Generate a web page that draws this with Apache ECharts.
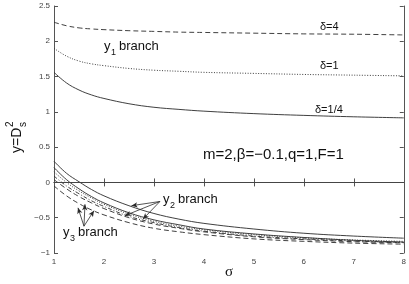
<!DOCTYPE html>
<html><head><meta charset="utf-8">
<script src="https://cdn.jsdelivr.net/npm/echarts@6/dist/echarts.min.js"></script>
<style>html,body{margin:0;padding:0;background:#fff}#c{width:409px;height:284px}</style>
</head><body><div id="c"></div>
<script>
// sigma sample points
const sigma = [1, 1.25, 1.5, 1.75, 2, 2.5, 3, 3.5, 4, 5, 6, 7, 8];
// y1 branch
const y1_d4   = [2.27, 2.22, 2.19, 2.175, 2.165, 2.15, 2.14, 2.13, 2.125, 2.115, 2.105, 2.10, 2.09];
const y1_d1   = [1.90, 1.79, 1.72, 1.68, 1.655, 1.615, 1.59, 1.575, 1.56, 1.545, 1.53, 1.52, 1.51];
const y1_d14  = [1.56, 1.41, 1.31, 1.24, 1.19, 1.115, 1.065, 1.035, 1.01, 0.975, 0.95, 0.93, 0.915];
// y2 / y3 branches
const y2_d14  = [0.30, 0.13, 0.01, -0.10, -0.19, -0.33, -0.44, -0.52, -0.58, -0.66, -0.72, -0.76, -0.79];
const y3_d14  = [0.21, 0.04, -0.09, -0.20, -0.29, -0.43, -0.53, -0.60, -0.66, -0.73, -0.78, -0.82, -0.845];
const y2_d1   = [0.15, 0.00, -0.12, -0.22, -0.31, -0.45, -0.55, -0.62, -0.67, -0.74, -0.785, -0.815, -0.835];
const y3_d1   = [0.09, -0.05, -0.16, -0.26, -0.34, -0.48, -0.57, -0.64, -0.69, -0.76, -0.80, -0.83, -0.85];
const y2_d4   = [0.04, -0.09, -0.20, -0.29, -0.37, -0.50, -0.59, -0.65, -0.70, -0.77, -0.81, -0.84, -0.855];
const y3_d4   = [-0.05, -0.19, -0.30, -0.39, -0.46, -0.57, -0.65, -0.70, -0.74, -0.80, -0.835, -0.86, -0.875];
// ticks
const xTicks = [1, 2, 3, 4, 5, 6, 7, 8];
const yTicks = [-1, -0.5, 0, 0.5, 1, 1.5, 2, 2.5];
// annotation arrows [from, to] in data coords
const y2Arrows = [[[3.12, -0.27], [2.55, -0.33]], [[3.12, -0.27], [2.42, -0.47]], [[3.12, -0.27], [2.78, -0.52]]];
const y3Arrows = [[[1.6, -0.62], [1.48, -0.36]], [[1.6, -0.62], [1.62, -0.31]], [[1.6, -0.62], [1.80, -0.40]]];

const LC = '#2a2a2a';
const pts = a => sigma.map((s, i) => [s, a[i]]);
function line(name, arr, type) {
  return { name, type: 'line', data: pts(arr), showSymbol: false, smooth: 0.4,
    lineStyle: { color: LC, width: 0.9, type: type }, silent: true, animation: false, z: 3 };
}
const DASH = [5, 3], DOT = [1, 1.6], DASHDOT = [4, 2, 1, 2];

const arrowData = [...y2Arrows, ...y3Arrows].map(([a, b]) => [
  { coord: a, symbol: 'none' }, { coord: b, symbol: 'arrow', symbolSize: [4, 6] }]);

const fmt = v => String(v).replace('-', '\u2212');
const axisCommon = { min: xTicks[0], max: xTicks[xTicks.length - 1], interval: 1 };
const chart = echarts.init(document.getElementById('c'), null, { renderer: 'canvas' });
chart.setOption({
  animation: false,
  backgroundColor: '#fff',
  grid: { left: 54, right: 5, top: 6, bottom: 31, containLabel: false },
  xAxis: [
    { type: 'value', ...axisCommon, position: 'bottom',
      axisLine: { lineStyle: { color: '#555', width: 1 } },
      axisTick: { inside: true, length: 4, lineStyle: { color: '#555' } },
      axisLabel: { fontSize: 8, color: '#444', margin: 5, fontFamily: 'Liberation Sans', formatter: fmt },
      splitLine: { show: false } },
    { type: 'value', ...axisCommon, position: 'top',
      axisLine: { lineStyle: { color: '#555', width: 1 } },
      axisTick: { inside: true, length: 4, lineStyle: { color: '#555' } },
      axisLabel: { show: false }, splitLine: { show: false } }
  ],
  yAxis: [
    { type: 'value', min: yTicks[0], max: yTicks[yTicks.length - 1], interval: 0.5, position: 'left',
      axisLine: { show: true, lineStyle: { color: '#555', width: 1 } },
      axisTick: { show: true, inside: true, length: 4, lineStyle: { color: '#555' } },
      axisLabel: { fontSize: 8, color: '#444', margin: 4, fontFamily: 'Liberation Sans', formatter: fmt },
      splitLine: { show: false } },
    { type: 'value', min: yTicks[0], max: yTicks[yTicks.length - 1], interval: 0.5, position: 'right',
      axisLine: { show: true, lineStyle: { color: '#555', width: 1 } },
      axisTick: { show: true, inside: true, length: 4, lineStyle: { color: '#555' } },
      axisLabel: { show: false }, splitLine: { show: false } }
  ],
  series: [
    line('y1 δ=4', y1_d4, DASH),
    line('y1 δ=1', y1_d1, DOT),
    Object.assign(line('y1 δ=1/4', y1_d14, 'solid'), {
      markLine: { silent: true, symbol: 'none', label: { show: false },
        lineStyle: { color: '#444', width: 0.9, type: 'solid' }, data: [{ yAxis: 0 }] } }),
    line('y2 δ=1/4', y2_d14, 'solid'),
    line('y3 δ=1/4', y3_d14, 'solid'),
    line('y2 δ=1', y2_d1, DOT),
    line('y3 δ=1', y3_d1, DASHDOT),
    line('y2 δ=4', y2_d4, DASH),
    line('y3 δ=4', y3_d4, DASH),
    { type: 'line', data: [], silent: true,
      markLine: { silent: true, animation: false, label: { show: false },
        lineStyle: { color: LC, width: 0.8, type: 'solid' }, data: arrowData } }
  ],
  graphic: [
    // y1 branch
    { type: 'text', left: 104, top: 40, style: { text: 'y', font: '13px "Liberation Sans"', fill: '#111' } },
    { type: 'text', left: 111, top: 48, style: { text: '1', font: '9px "Liberation Sans"', fill: '#111' } },
    { type: 'text', left: 119, top: 40, style: { text: 'branch', font: '13px "Liberation Sans"', fill: '#111' } },
    // y2 branch
    { type: 'text', left: 163, top: 193, style: { text: 'y', font: '13px "Liberation Sans"', fill: '#111' } },
    { type: 'text', left: 170, top: 201, style: { text: '2', font: '9px "Liberation Sans"', fill: '#111' } },
    { type: 'text', left: 178, top: 193, style: { text: 'branch', font: '13px "Liberation Sans"', fill: '#111' } },
    // y3 branch
    { type: 'text', left: 63, top: 226, style: { text: 'y', font: '13px "Liberation Sans"', fill: '#111' } },
    { type: 'text', left: 70, top: 234, style: { text: '3', font: '9px "Liberation Sans"', fill: '#111' } },
    { type: 'text', left: 78, top: 226, style: { text: 'branch', font: '13px "Liberation Sans"', fill: '#111' } },
    // delta labels
    { type: 'text', left: 320, top: 21, style: { text: 'δ=4', font: '11px "Liberation Sans"', fill: '#111' } },
    { type: 'text', left: 320, top: 60, style: { text: 'δ=1', font: '11px "Liberation Sans"', fill: '#111' } },
    { type: 'text', left: 315, top: 104, style: { text: 'δ=1/4', font: '11px "Liberation Sans"', fill: '#111' } },
    // parameters
    { type: 'text', left: 203, top: 147, style: { text: 'm=2,β=\u22120.1,q=1,F=1', font: '15px "Liberation Sans"', fill: '#111' } },
    // x label
    { type: 'text', left: 225, top: 265, style: { text: 'σ', font: '15px "Liberation Serif"', fill: '#111' } },
    // y label (rotated)
    { type: 'group', x: 17, y: 153, rotation: Math.PI / 2, children: [
      { type: 'text', x: 0, y: 0, style: { text: 'y=D', font: '14px "Liberation Sans"', fill: '#111', textVerticalAlign: 'middle' } },
      { type: 'text', x: 26, y: -7, style: { text: '2', font: '10px "Liberation Sans"', fill: '#111', textVerticalAlign: 'middle' } },
      { type: 'text', x: 26, y: 6, style: { text: 's', font: '10px "Liberation Sans"', fill: '#111', textVerticalAlign: 'middle' } }
    ] }
  ]
});
</script></body></html>
